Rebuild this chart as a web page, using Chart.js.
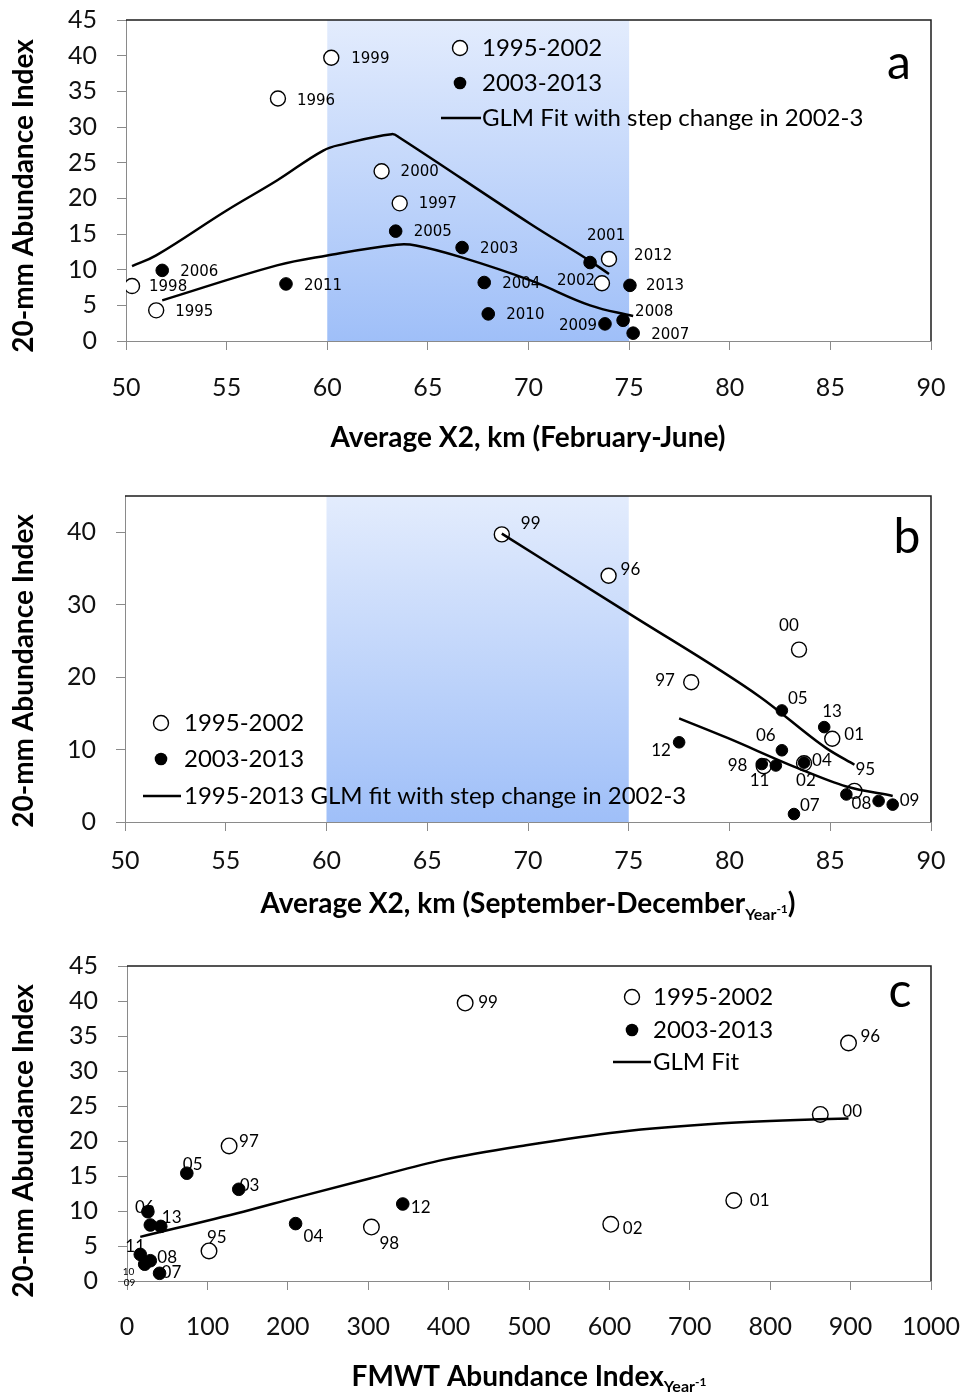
<!DOCTYPE html>
<html>
<head>
<meta charset="utf-8">
<script src="https://cdn.jsdelivr.net/npm/chart.js@4.4.0/dist/chart.umd.min.js"></script>
<style>
  body { margin: 0; background: #fff; }
  #wrap { position: relative; width: 963px; height: 1395px; }
  canvas { position: absolute; left: 0; }
</style>
</head>
<body>
<div id="wrap">
  <canvas id="chartA" width="963" height="465" style="top:0"></canvas>
  <canvas id="chartB" width="963" height="465" style="top:465px"></canvas>
  <canvas id="chartC" width="963" height="465" style="top:930px"></canvas>
</div>
<script>
// ---- data ----
const yearsEarly = ['1995', '1996', '1997', '1998', '1999', '2000', '2001', '2002'];
const yearsLate = ['2003', '2004', '2005', '2006', '2007', '2008', '2009', '2010', '2011', '2012', '2013'];

// 20-mm abundance index, same for all three panels
const abundanceEarly = [4.3, 34.0, 19.3, 7.7, 39.7, 23.8, 11.5, 8.1];
const abundanceLate = [13.1, 8.2, 15.4, 9.9, 1.1, 2.9, 2.4, 3.8, 8.0, 11.0, 7.8];

// panel a: X2 February-June
const x2SpringEarly = [51.5, 57.55, 63.6, 50.3, 60.2, 62.7, 74.0, 73.65];
const x2SpringLate = [66.7, 67.8, 63.4, 51.8, 75.2, 74.7, 73.8, 68.0, 57.95, 73.06, 75.04];
const fitSpringEarlyX = [50.3, 51.5, 55.0, 57.5, 59.8, 60.8, 63.2, 63.6, 70.1, 72.9, 74.0];
const fitSpringEarlyY = [10.5, 12.0, 18.3, 22.5, 26.7, 27.6, 29.0, 28.5, 16.4, 11.5, 9.4];
const fitSpringLateX = [51.8, 57.5, 60.0, 63.45, 64.4, 66.6, 70.1, 73.06, 75.2];
const fitSpringLateY = [5.7, 10.6, 12.0, 13.5, 13.4, 11.8, 8.5, 5.0, 3.5];

// panel b: X2 September-December of previous year
const x2FallEarly = [86.2, 74.0, 78.1, 81.7, 68.7, 83.45, 85.1, 83.7];
const x2FallLate = [84.7, 83.7, 82.6, 82.6, 83.2, 87.4, 88.1, 85.8, 81.6, 77.5, 82.3];
const labelsFallEarly = ['95', '96', '97', '98', '99', '00', '01', '02'];
const labelsFallLate = ['13', '04', '05', '06', '07', '08', '09', '', '11', '12', ''];
const fitFallEarlyX = [68.7, 75.0, 81.5, 84.8, 86.2];
const fitFallEarlyY = [39.8, 28.8, 17.3, 10.2, 7.9];
const fitFallLateX = [77.5, 79.9, 83.2, 85.8, 88.1];
const fitFallLateY = [14.3, 11.6, 7.65, 4.9, 3.6];

// panel c: FMWT abundance index of previous year
const fmwtEarly = [102, 897.4, 127, 304, 420.6, 862.3, 754.7, 601.7];
const fmwtLate = [139, 209.7, 74.4, 26, 40.5, 29, 22, 16.5, 29, 343, 42];
const labelsFmwtEarly = ['95', '96', '97', '98', '99', '00', '01', '02'];
const labelsFmwtLate = ['03', '04', '05', '06', '07', '08', '', '11', '', '12', '13'];
const fitFmwtX = [16.5, 144.7, 206.7, 301.9, 392.8, 496.3, 612, 736, 860, 897.4];
const fitFmwtY = [6.3, 9.9, 11.8, 14.65, 17.3, 19.4, 21.3, 22.5, 23.1, 23.2];

// tick labels
const x2TickValues = [50, 55, 60, 65, 70, 75, 80, 85, 90];
const fmwtTickValues = [0, 100, 200, 300, 400, 500, 600, 700, 800, 900, 1000];
const abundanceTicks5 = [0, 5, 10, 15, 20, 25, 30, 35, 40, 45];
const abundanceTicks10 = [0, 10, 20, 30, 40];

// ---- helpers ----
const pts = (xs, ys) => xs.map((x, i) => ({ x: x, y: ys[i] }));
const AXIS = '#8a8a8a';

function openSet(xs, ys, labels, r) {
  return { data: pts(xs, ys), pointLabels: labels, pointRadius: r, pointBackgroundColor: '#fff',
           pointBorderColor: '#000', pointBorderWidth: 1.4, order: 2 };
}
function filledSet(xs, ys, labels, r) {
  return { data: pts(xs, ys), pointLabels: labels, pointRadius: r, pointBackgroundColor: '#000',
           pointBorderColor: '#000', pointBorderWidth: 1, order: 1 };
}
function fitSet(xs, ys, mono) {
  return { data: pts(xs, ys), showLine: true, pointRadius: 0, borderColor: '#000', borderWidth: 2.5,
           tension: 0.4, cubicInterpolationMode: mono ? 'monotone' : 'default', fill: false, order: 0 };
}

function drawParts(ctx, parts, cx, base) {
  let w = 0;
  parts.forEach(p => { ctx.font = p.font; w += ctx.measureText(p.t).width; });
  let x = cx - w / 2;
  ctx.textAlign = 'left';
  ctx.textBaseline = 'alphabetic';
  parts.forEach(p => {
    ctx.font = p.font;
    ctx.fillText(p.t, x, base + (p.dy || 0));
    x += ctx.measureText(p.t).width;
  });
}

// band, frame, point labels, legend, panel letter, axis titles
const decor = {
  id: 'decor',
  beforeDatasetsDraw(chart, args, o) {
    if (!o.band) return;
    const ctx = chart.ctx, a = chart.chartArea, x = chart.scales.x;
    const x0 = x.getPixelForValue(o.band[0]), x1 = x.getPixelForValue(o.band[1]);
    const g = ctx.createLinearGradient(0, a.top, 0, a.bottom);
    g.addColorStop(0, '#e3ecfd');
    g.addColorStop(1, '#9fbff8');
    ctx.save();
    ctx.fillStyle = g;
    ctx.fillRect(x0, a.top, x1 - x0, a.bottom - a.top);
    ctx.restore();
  },
  afterDraw(chart, args, o) {
    const ctx = chart.ctx, a = chart.chartArea;
    ctx.save();
    ctx.strokeStyle = '#1c1c1c';
    ctx.lineWidth = 1.5;
    ctx.beginPath();
    ctx.moveTo(a.left, a.top);
    ctx.lineTo(a.right, a.top);
    ctx.lineTo(a.right, a.bottom);
    ctx.stroke();

    ctx.fillStyle = '#000';
    ctx.textAlign = 'left';
    ctx.textBaseline = 'middle';
    chart.data.datasets.forEach((ds, di) => {
      if (!ds.pointLabels) return;
      const meta = chart.getDatasetMeta(di);
      ctx.font = o.labelFont;
      ds.pointLabels.forEach((t, i) => {
        if (!t) return;
        const off = o.offsets[t] || [18, 1];
        const p = meta.data[i];
        ctx.fillText(t, p.x + off[0], p.y + off[1]);
      });
    });
    (o.extras || []).forEach(e => {
      const p = chart.getDatasetMeta(e.ds).data[e.i];
      ctx.font = e.font;
      ctx.fillText(e.t, p.x + e.dx, p.y + e.dy);
    });

    // legend
    const L = o.legend;
    ctx.font = '24px Lato';
    ctx.lineWidth = 1.4;
    ctx.beginPath();
    ctx.arc(L.mx, L.rows[0], 7.5, 0, Math.PI * 2);
    ctx.fillStyle = '#fff'; ctx.fill(); ctx.strokeStyle = '#000'; ctx.stroke();
    ctx.beginPath();
    ctx.arc(L.mx, L.rows[1], 6.3, 0, Math.PI * 2);
    ctx.fillStyle = '#000'; ctx.fill();
    ctx.lineWidth = 2.5;
    ctx.beginPath();
    ctx.moveTo(L.line[0], L.rows[2]); ctx.lineTo(L.line[1], L.rows[2]); ctx.stroke();
    L.texts.forEach((t, i) => ctx.fillText(t, L.tx, L.rows[i]));

    // panel letter
    ctx.font = '48px Lato';
    ctx.textAlign = 'center';
    ctx.textBaseline = 'alphabetic';
    ctx.fillText(o.letter.t, o.letter.x, o.letter.y);

    // axis titles
    drawParts(ctx, o.xTitle.parts, o.xTitle.x, o.xTitle.y);
    ctx.translate(33, o.yTitleY);
    ctx.rotate(-Math.PI / 2);
    ctx.font = boldT;
    ctx.textAlign = 'center';
    ctx.fillText('20-mm Abundance Index', 0, 0);
    ctx.restore();
  }
};

function axis(min, max, values, fit, pad) {
  return {
    type: 'linear', min: min, max: max,
    afterBuildTicks: s => { s.ticks = values.map(v => ({ value: v })); },
    afterFit: fit,
    ticks: { font: { family: 'Lato', size: 25 }, color: '#111', padding: pad, maxRotation: 0,
             autoSkip: false, callback: v => String(v) },
    grid: { drawOnChartArea: false, drawTicks: true, tickLength: 9, color: AXIS },
    border: { color: AXIS, width: 1 }
  };
}

function makePanel(id, p) {
  return new Chart(document.getElementById(id), {
    type: 'scatter',
    data: { datasets: p.datasets },
    options: {
      responsive: false,
      animation: false,
      layout: { padding: { top: p.top, right: 32, left: 0, bottom: 0 } },
      scales: {
        x: axis(p.xMin, p.xMax, p.xTicks, s => { s.height = p.xHeight; s.paddingLeft = 0; s.paddingRight = 0; }, p.xPad),
        y: axis(0, 45, p.yTicks, s => { s.width = p.left; s.paddingTop = 0; s.paddingBottom = 0; }, 20)
      },
      plugins: { legend: { display: false }, tooltip: { enabled: false }, decor: p.decor }
    },
    plugins: [decor]
  });
}

const boldT = 'bold 28px Lato';
const subT = 'bold 16px Lato';
const supT = 'bold 12px Lato';

makePanel('chartA', {
  top: 20, left: 126, xHeight: 124, xPad: 23, xMin: 50, xMax: 90,
  xTicks: x2TickValues, yTicks: abundanceTicks5,
  datasets: [
    openSet(x2SpringEarly, abundanceEarly, yearsEarly, 7.5),
    filledSet(x2SpringLate, abundanceLate, yearsLate, 6.3),
    fitSet(fitSpringEarlyX, fitSpringEarlyY),
    fitSet(fitSpringLateX, fitSpringLateY)
  ],
  decor: {
    band: [60, 75],
    labelFont: '15px "DejaVu Sans"',
    offsets: {
      '1999': [20, 1], '1996': [19, 3], '2000': [19, 1], '1997': [19, 1], '2005': [18, 1],
      '2003': [18, 2], '2006': [18, 2], '1998': [17, 1], '1995': [19, 2], '2011': [18, 2],
      '2004': [18, 2], '2010': [18, 1], '2001': [-22, -23], '2012': [44, -6], '2002': [-45, -2],
      '2013': [16, 1], '2008': [12, -8], '2009': [-46, 2], '2007': [18, 2]
    },
    legend: { mx: 460, tx: 482, rows: [48, 83, 118], line: [441, 481],
              texts: ['1995-2002', '2003-2013', 'GLM Fit with step change in 2002-3'] },
    letter: { t: 'a', x: 899, y: 79 },
    xTitle: { x: 528, y: 447, parts: [{ t: 'Average X2, km (February-June)', font: boldT }] },
    yTitleY: 196
  }
});

makePanel('chartB', {
  top: 31, left: 125, xHeight: 108, xPad: 15, xMin: 50, xMax: 90,
  xTicks: x2TickValues, yTicks: abundanceTicks10,
  datasets: [
    openSet(x2FallEarly, abundanceEarly, labelsFallEarly, 7.5),
    filledSet(x2FallLate, abundanceLate, labelsFallLate, 5.8),
    fitSet(fitFallEarlyX, fitFallEarlyY, true),
    fitSet(fitFallLateX, fitFallLateY, true)
  ],
  decor: {
    band: [60, 75],
    labelFont: '17px Lato',
    offsets: {
      '99': [19, -11], '96': [12, -6], '00': [-20, -24], '97': [-36, -2], '05': [6, -12],
      '13': [-2, -16], '01': [12, -4], '12': [-28, 8], '06': [-26, -15], '98': [-36, -1],
      '11': [-12, 16], '04': [8, -2], '02': [-8, 17], '95': [1, -21], '07': [6, -9],
      '08': [-27, 3], '09': [7, -4]
    },
    legend: { mx: 161, tx: 184, rows: [258, 294, 331], line: [143, 181],
              texts: ['1995-2002', '2003-2013', '1995-2013 GLM fit with step change in 2002-3'] },
    letter: { t: 'b', x: 907, y: 88 },
    xTitle: { x: 528, y: 448, parts: [
      { t: 'Average X2, km (September-December', font: boldT },
      { t: 'Year', font: subT, dy: 7 },
      { t: '-1', font: supT, dy: 0 },
      { t: ')', font: boldT }
    ] },
    yTitleY: 206
  }
});

makePanel('chartC', {
  top: 36, left: 127, xHeight: 114, xPad: 22, xMin: 0, xMax: 1000,
  xTicks: fmwtTickValues, yTicks: abundanceTicks5,
  datasets: [
    openSet(fmwtEarly, abundanceEarly, labelsFmwtEarly, 7.8),
    filledSet(fmwtLate, abundanceLate, labelsFmwtLate, 6.3),
    fitSet(fitFmwtX, fitFmwtY, true)
  ],
  decor: {
    labelFont: '17px Lato',
    offsets: {
      '99': [13, -1], '97': [10, -4], '05': [-4, -9], '03': [1, -4], '06': [-13, -4],
      '13': [1, -9], '12': [8, 4], '04': [8, 13], '98': [8, 16], '95': [-2, -13],
      '11': [-15, -8], '08': [7, -3], '07': [2, -1], '02': [12, 4], '01': [16, 0],
      '00': [22, -3], '96': [12, -6]
    },
    extras: [
      { t: '10', ds: 1, i: 6, dx: -22, dy: 8, font: '10px Lato' },
      { t: '09', ds: 1, i: 6, dx: -21, dy: 19, font: '10px Lato' }
    ],
    legend: { mx: 632, tx: 653, rows: [67, 100, 132], line: [613, 651],
              texts: ['1995-2002', '2003-2013', 'GLM Fit'] },
    letter: { t: 'c', x: 900, y: 77 },
    xTitle: { x: 529, y: 456, parts: [
      { t: 'FMWT Abundance Index', font: boldT },
      { t: 'Year', font: subT, dy: 6 },
      { t: '-1', font: supT, dy: 0 }
    ] },
    yTitleY: 211
  }
});
</script>
</body>
</html>
